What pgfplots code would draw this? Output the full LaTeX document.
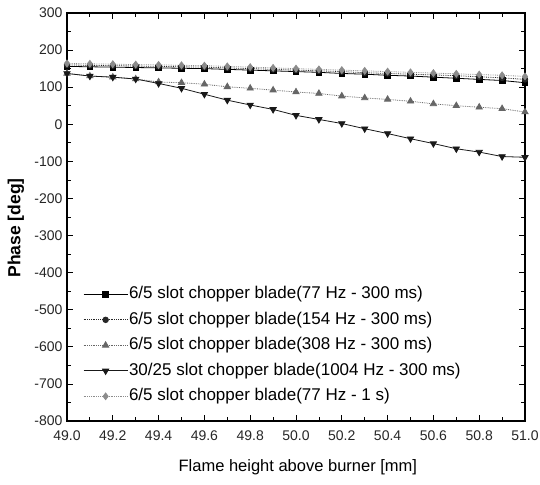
\documentclass[border=0pt]{standalone}
\usepackage{pgfplots}
\pgfplotsset{compat=1.18}
\usepackage{fontspec}
\setmainfont{Liberation Sans}
\begin{document}
\begin{tikzpicture}
\begin{axis}[
  scale only axis, width=458pt, height=408pt,
  xmin=49.0, xmax=51.0, ymin=-800, ymax=300,
  axis line style={line width=1.3pt},
  tick align=inside, major tick length=6pt, minor tick length=4pt,
  every tick/.style={black, line width=0.8pt},
  xtick={49.0,49.2,...,51.01}, minor x tick num=1,
  xticklabels={49.0,49.2,49.4,49.6,49.8,50.0,50.2,50.4,50.6,50.8,51.0},
  ytick={-800,-700,...,300}, minor y tick num=1,
  yticklabels={-800,-700,-600,-500,-400,-300,-200,-100,0,100,200,300},
  ticks=both, xtick pos=both, ytick pos=both,
  tick label style={font=\fontsize{14}{16}\selectfont, text=black!85},
  xticklabel style={yshift=-6pt},
  yticklabel style={xshift=-1pt},
  xlabel={Flame height above burner [mm]},
  ylabel={\bfseries Phase [deg]},
  xlabel style={font=\fontsize{16.5}{19}\selectfont, at={(axis description cs:0.504,-0.1127)}, anchor=center},
  ylabel style={font=\fontsize{17.5}{20}\selectfont, at={(axis description cs:-0.1114,0.473)}, anchor=center},
  legend style={draw=none, fill=none, font=\fontsize{17}{19}\selectfont,
    at={(axis description cs:0.035,0.333)}, anchor=north west,
    row sep=7.5pt, inner sep=0pt,
    nodes={inner sep=1pt, text height=12.5pt, text depth=3.5pt}},
  legend cell align=left,
  legend image code/.code={\draw[mark repeat=2,mark phase=2] plot coordinates {(0pt,0pt) (22pt,0pt) (44pt,0pt)};},
]
\addplot[black, line width=0.8pt, mark=square*, mark size=2.8pt] coordinates {
(49.0,156)(49.1,155)(49.2,154)(49.3,153)(49.4,152)(49.5,151)(49.6,150)(49.7,148)(49.8,146)(49.9,144)(50.0,142)(50.1,140)(50.2,137)(50.3,135)(50.4,132)(50.5,130)(50.6,127)(50.7,124)(50.8,121)(50.9,118)(51.0,112)};
\addlegendentry{6/5 slot chopper blade(77 Hz - 300 ms)}
\addplot[black!85, line width=0.8pt, densely dotted, mark=*, mark size=2.8pt, mark options={solid}] coordinates {
(49.0,160)(49.1,159)(49.2,158)(49.3,157)(49.4,156)(49.5,155)(49.6,154)(49.7,152)(49.8,150)(49.9,148)(50.0,146)(50.1,144)(50.2,142)(50.3,139)(50.4,137)(50.5,135)(50.6,133)(50.7,131)(50.8,128)(50.9,125)(51.0,121)};
\addlegendentry{6/5 slot chopper blade(154 Hz - 300 ms)}
\addplot[black!60, line width=0.8pt, densely dotted, mark=triangle*, mark size=3.6pt, mark options={solid}] coordinates {
(49.0,137)(49.1,130)(49.2,127)(49.3,122)(49.4,114)(49.5,112)(49.6,108)(49.7,101)(49.8,97)(49.9,92)(50.0,87)(50.1,83)(50.2,76)(50.3,71)(50.4,67)(50.5,62)(50.6,55)(50.7,50)(50.8,46)(50.9,42)(51.0,33)};
\addlegendentry{6/5 slot chopper blade(308 Hz - 300 ms)}
\addplot[black!90, line width=0.8pt, mark=triangle*, mark size=3.6pt, mark options={rotate=180}] coordinates {
(49.0,137)(49.1,130)(49.2,127)(49.3,122)(49.4,110)(49.5,97)(49.6,81)(49.7,65)(49.8,52)(49.9,40)(50.0,24)(50.1,13)(50.2,2)(50.3,-12)(50.4,-25)(50.5,-39)(50.6,-52)(50.7,-66)(50.8,-75)(50.9,-87)(51.0,-89)};
\addlegendentry{30/25 slot chopper blade(1004 Hz - 300 ms)}
\addplot[black!45, line width=0.8pt, densely dotted, mark=diamond*, mark size=3.4pt, mark options={solid}] coordinates {
(49.0,164)(49.1,163)(49.2,162)(49.3,161)(49.4,160)(49.5,159)(49.6,158)(49.7,156)(49.8,154)(49.9,152)(50.0,150)(50.1,148)(50.2,146)(50.3,144)(50.4,142)(50.5,140)(50.6,138)(50.7,136)(50.8,134)(50.9,132)(51.0,129)};
\addlegendentry{6/5 slot chopper blade(77 Hz - 1 s)}
\end{axis}
\pgfresetboundingbox
\path (-67pt,-63pt) rectangle (473pt,421pt);
\end{tikzpicture}
\end{document}
